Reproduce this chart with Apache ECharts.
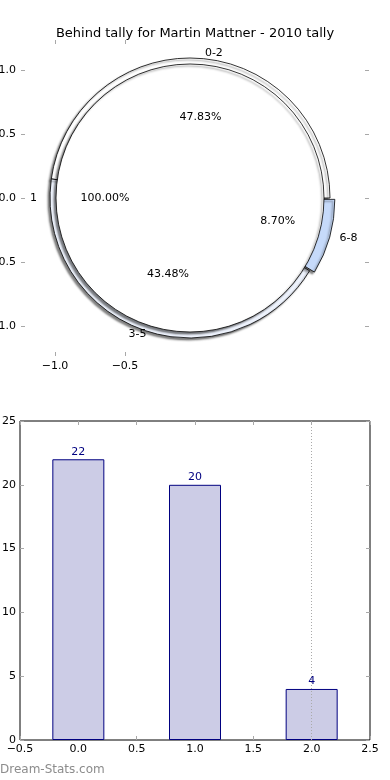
<!DOCTYPE html>
<html><head><meta charset="utf-8">
<script src="https://cdn.jsdelivr.net/npm/echarts@6/dist/echarts.min.js"></script>
<style>html,body{margin:0;padding:0;background:#fff}#c{width:390px;height:780px}</style>
</head><body><div id="c"></div>
<script>
const titleText = 'Behind tally for Martin Mattner - 2010 tally';
const outerNames = ['0-2', '3-5', '6-8'];
const outerValues = [22, 20, 4];
const innerNames = ['1'];
const innerValues = [46];
const barX = [0, 1, 2];
const barValues = [22, 20, 4];
const pieXTicks = [-1.0, -0.5];
const pieYTicks = [-1.0, -0.5, 0.0, 0.5, 1.0];
const markX = 2;
const watermark = 'Dream-Stats.com';

const FONT = 'DejaVu Sans';
const outerColors = ['#ffffff', '#eef3fd', '#c6dafa'];
const explodeName = '6-8';
const fmt1 = v => (v < 0 ? '\u2212' : '') + Math.abs(v).toFixed(1);
const shapeCenter = [190, 198];
const labelCenter = [195, 198];
const tickGray = '#a8a8a8';

const sum = arr => arr.reduce((a, b) => a + b, 0);
const outerTotal = sum(outerValues);
const innerTotal = sum(innerValues);

const outerData = outerNames.map((n, i) => ({ name: n, value: outerValues[i], selected: n === explodeName, itemStyle: { color: outerColors[i] } }));
const innerData = innerNames.map((n, i) => ({ name: n, value: innerValues[i], itemStyle: { color: '#ffffff' } }));
const helperOuter = outerNames.map((n, i) => ({ name: n, value: outerValues[i], selected: n === explodeName }));
const helperInner = innerNames.map((n, i) => ({ name: n, value: innerValues[i] }));

const pieBase = {
  type: 'pie', clockwise: false, startAngle: 0, silent: true, animation: false,
  selectedMode: 'multiple', selectedOffset: 5, avoidLabelOverlap: false,
  emphasis: { disabled: true }
};
const shadow = { shadowColor: 'rgba(0,0,0,0.5)', shadowBlur: 2, shadowOffsetX: -2, shadowOffsetY: 2 };
const transparentItem = { color: 'rgba(0,0,0,0)', borderWidth: 0 };
const labelText = { color: '#000', fontFamily: FONT, fontSize: 11 };

const nameLabelSeries = (data, r) => Object.assign({}, pieBase, {
  center: labelCenter, radius: [0, r], data: data, z: 5,
  itemStyle: transparentItem,
  label: Object.assign({ show: true, position: 'outside', distanceToLabelLine: 0, formatter: '{b}' }, labelText),
  labelLine: { show: false, length: 0, length2: 0 }
});
const pctLabelSeries = (data, r, total) => Object.assign({}, pieBase, {
  center: labelCenter, radius: [0, r], data: data, z: 5,
  itemStyle: transparentItem,
  label: Object.assign({ show: true, position: 'inside', formatter: p => (p.value / total * 100).toFixed(2) + '%' }, labelText),
  labelLine: { show: false }
});

const noLine = { show: false, onZero: false };
const tickInside = (vals) => ({ show: true, inside: true, length: 4, customValues: vals, lineStyle: { color: tickGray, width: 1 } });
const axisLabelStyle = { color: '#000', fontFamily: FONT, fontSize: 11 };
const plainTick = { show: true, inside: true, length: 4, lineStyle: { color: tickGray, width: 1 } };

const chart = echarts.init(document.getElementById('c'), null, { renderer: 'canvas' });
chart.setOption({
  animation: false,
  backgroundColor: '#fff',
  title: { text: titleText, left: 'center', top: 22, textStyle: { fontFamily: FONT, fontSize: 13, fontWeight: 'normal', color: '#000' } },
  graphic: [{ type: 'text', left: 0, top: 764, style: { text: watermark, fill: '#8c8c8c', font: '12px "' + FONT + '"' } }],
  grid: [
    { left: 21, right: 21, top: 40, bottom: 424, show: false, outerBoundsMode: 'none', containLabel: false },
    { left: 20, width: 350, top: 421, height: 319, show: true, borderColor: '#000', borderWidth: 1, backgroundColor: 'transparent', outerBoundsMode: 'none', containLabel: false }
  ],
  xAxis: [
    { type: 'value', gridIndex: 0, position: 'bottom', min: -1.243, max: 1.243, axisLine: noLine, splitLine: { show: false },
      axisTick: tickInside(pieXTicks), axisLabel: Object.assign({ customValues: pieXTicks, formatter: fmt1, margin: 5 }, axisLabelStyle) },
    { type: 'value', gridIndex: 0, position: 'top', min: -1.243, max: 1.243, axisLine: noLine, splitLine: { show: false },
      axisTick: tickInside(pieXTicks), axisLabel: { show: false } },
    { type: 'value', gridIndex: 1, position: 'bottom', min: -0.5, max: 2.5, interval: 0.5, axisLine: noLine, splitLine: { show: false },
      axisTick: plainTick, axisLabel: Object.assign({ formatter: fmt1, margin: 4, showMinLabel: true, showMaxLabel: true }, axisLabelStyle) },
    { type: 'value', gridIndex: 1, position: 'top', min: -0.5, max: 2.5, interval: 0.5, axisLine: noLine, splitLine: { show: false },
      axisTick: plainTick, axisLabel: { show: false } }
  ],
  yAxis: [
    { type: 'value', gridIndex: 0, position: 'left', min: -1.234, max: 1.234, axisLine: noLine, splitLine: { show: false },
      axisTick: tickInside(pieYTicks), axisLabel: Object.assign({ customValues: pieYTicks, formatter: fmt1, margin: 5 }, axisLabelStyle) },
    { type: 'value', gridIndex: 0, position: 'right', min: -1.234, max: 1.234, axisLine: noLine, splitLine: { show: false },
      axisTick: tickInside(pieYTicks), axisLabel: { show: false } },
    { type: 'value', gridIndex: 1, position: 'left', min: 0, max: 25, interval: 5, axisLine: noLine, splitLine: { show: false },
      axisTick: plainTick, axisLabel: Object.assign({ margin: 4, showMinLabel: true, showMaxLabel: true }, axisLabelStyle) },
    { type: 'value', gridIndex: 1, position: 'right', min: 0, max: 25, interval: 5, axisLine: noLine, splitLine: { show: false },
      axisTick: plainTick, axisLabel: { show: false } }
  ],
  series: [
    Object.assign({}, pieBase, {
      center: shapeCenter, radius: [0, 140], data: outerData, z: 2,
      itemStyle: Object.assign({ borderColor: '#000', borderWidth: 0.8 }, shadow),
      label: { show: false }, labelLine: { show: false }
    }),
    Object.assign({}, pieBase, {
      center: shapeCenter, radius: [0, 134], data: innerData, z: 3,
      itemStyle: Object.assign({ borderColor: '#000', borderWidth: 0.8 }, shadow),
      label: { show: false }, labelLine: { show: false }
    }),
    nameLabelSeries(helperOuter, 145),
    pctLabelSeries(helperOuter, 156, outerTotal),
    nameLabelSeries(helperInner, 158),
    pctLabelSeries(helperInner, 174, innerTotal),
    {
      type: 'bar', xAxisIndex: 2, yAxisIndex: 2, barWidth: 52, silent: true,
      data: barX.map((x, i) => [x, barValues[i]]),
      itemStyle: { color: '#cccce6', borderColor: '#000080', borderWidth: 1 },
      label: { show: true, position: 'top', distance: 2, color: '#000080', fontFamily: FONT, fontSize: 11, formatter: p => String(p.value[1]) },
      markLine: { silent: true, symbol: 'none', animation: false, label: { show: false },
        lineStyle: { color: '#aaaaaa', type: [1, 2], width: 1 }, data: [{ xAxis: markX }] }
    }
  ]
});
</script></body></html>
